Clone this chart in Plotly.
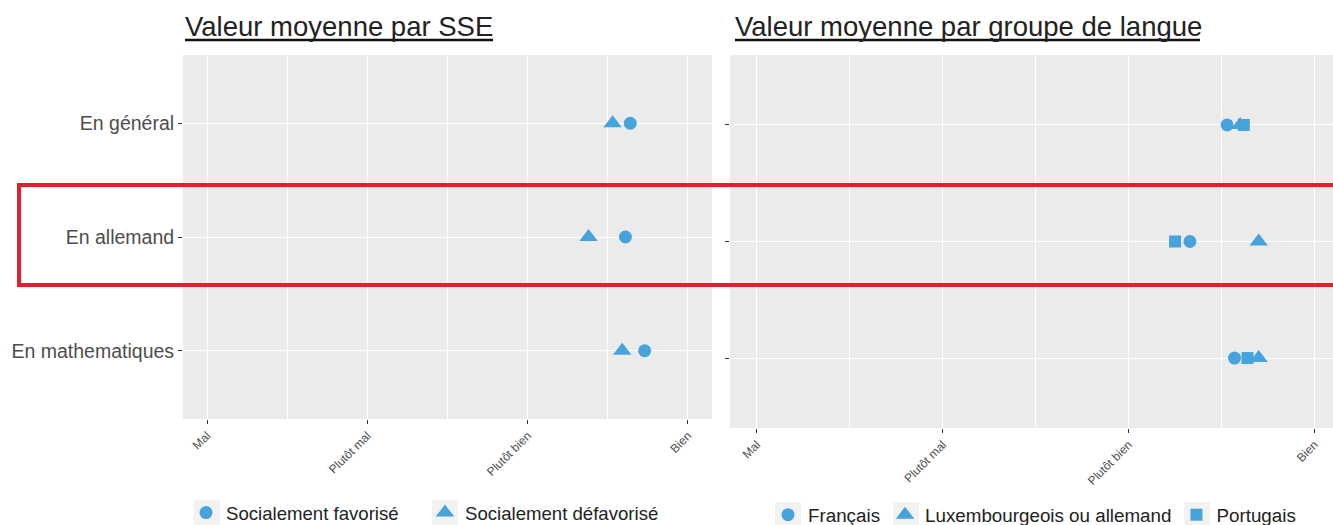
import plotly.graph_objects as go

# ---------------- data ----------------
categories = ["En général", "En allemand", "En mathematiques"]
x_tick_values = [1, 2, 3, 4]
x_tick_labels = ["Mal", "Plutôt mal", "Plutôt bien", "Bien"]

# left panel: mean value by socio-economic status (SSE)
sse_favorise = [3.64, 3.61, 3.73]
sse_defavorise = [3.53, 3.38, 3.59]

# right panel: mean value by language group
lang_francais = [3.53, 3.33, 3.57]
lang_lux_allemand = [3.60, 3.70, 3.70]
lang_portugais = [3.62, 3.25, 3.64]

# ---------------- style ----------------
W, H = 1333, 534          # the capture is scaled vertically to 525
REF_H = 525
BLUE = "#47A3DC"
FONT = "Liberation Sans, Arial, Helvetica, sans-serif"
AXIS_TXT = "#4D4D4D"


def px_x(v):
    return v / W


def px_y(v):
    return 1 - v / REF_H


fig = go.Figure()

# left panel traces
fig.add_trace(go.Scatter(
    x=sse_favorise, y=categories, mode="markers", name="Socialement favorisé",
    marker=dict(symbol="circle", size=13, color=BLUE),
    xaxis="x", yaxis="y", legend="legend"))
fig.add_trace(go.Scatter(
    x=sse_defavorise, y=categories, mode="markers", name="Socialement défavorisé",
    marker=dict(symbol="triangle-up", size=16, color=BLUE),
    xaxis="x", yaxis="y", legend="legend"))

# right panel traces
fig.add_trace(go.Scatter(
    x=lang_francais, y=categories, mode="markers", name="Français",
    marker=dict(symbol="circle", size=13, color=BLUE),
    xaxis="x2", yaxis="y2", legend="legend2"))
fig.add_trace(go.Scatter(
    x=lang_lux_allemand, y=categories, mode="markers", name="Luxembourgeois ou allemand",
    marker=dict(symbol="triangle-up", size=16, color=BLUE),
    xaxis="x2", yaxis="y2", legend="legend2"))
fig.add_trace(go.Scatter(
    x=lang_portugais, y=categories, mode="markers", name="Portugais",
    marker=dict(symbol="square", size=12, color=BLUE),
    xaxis="x2", yaxis="y2", legend="legend2"))

xaxis_common = dict(
    tickvals=x_tick_values, ticktext=x_tick_labels, tickangle=-45,
    tickfont=dict(size=12, color=AXIS_TXT, family=FONT),
    ticks="outside", ticklen=4, tickwidth=1, tickcolor="#333333",
    showgrid=True, gridcolor="white", gridwidth=1.3,
    minor=dict(tickvals=[1.5, 2.5, 3.5], showgrid=True, gridcolor="white",
               gridwidth=0.6, ticks=""),
    zeroline=False, showline=False, fixedrange=True,
)
yaxis_common = dict(
    type="category", categoryorder="array", categoryarray=categories,
    range=[2.6, -0.6],
    ticks="outside", ticklen=4, tickwidth=1, tickcolor="#333333",
    showgrid=True, gridcolor="white", gridwidth=1.3,
    zeroline=False, showline=False, fixedrange=True,
)

fig.update_layout(
    width=W, height=H,
    margin=dict(l=0, r=0, t=0, b=0),
    paper_bgcolor="white", plot_bgcolor="#EBEBEB",
    font=dict(family=FONT, color="#222222"),
    xaxis=dict(domain=[px_x(183), px_x(712)], range=[0.85, 4.15],
               anchor="y", **xaxis_common),
    yaxis=dict(domain=[px_y(419), px_y(55)], anchor="x",
               tickfont=dict(size=19.5, color=AXIS_TXT, family=FONT),
               **yaxis_common),
    xaxis2=dict(domain=[px_x(730), 1.0], range=[0.855, 4.10],
                anchor="y2", **xaxis_common),
    yaxis2=dict(domain=[px_y(428), px_y(55)], anchor="x2",
                showticklabels=False, **yaxis_common),
    legend=dict(orientation="h", x=px_x(186), y=px_y(513), xanchor="left",
                yanchor="middle", font=dict(size=18.6, color="#222222", family=FONT),
                entrywidth=194,
                bgcolor="rgba(0,0,0,0)", itemclick=False, itemdoubleclick=False),
    legend2=dict(orientation="h", x=px_x(768), y=px_y(515), xanchor="left",
                 yanchor="middle", font=dict(size=18.8, color="#222222", family=FONT),
                 bgcolor="rgba(0,0,0,0)", itemclick=False, itemdoubleclick=False),
    showlegend=True,
)

# titles
TITLE_FONT = dict(size=27.5, color="#222222", family=FONT)
fig.add_annotation(text="Valeur moyenne par SSE", xref="paper", yref="paper",
                   x=px_x(183), y=px_y(26), xanchor="left", yanchor="middle",
                   showarrow=False, font=TITLE_FONT)
fig.add_annotation(text="Valeur moyenne par groupe de langue", xref="paper", yref="paper",
                   x=px_x(733), y=px_y(26), xanchor="left", yanchor="middle",
                   showarrow=False, font=TITLE_FONT)
# title underlines
fig.add_shape(type="line", xref="paper", yref="paper",
              x0=px_x(185), x1=px_x(493), y0=px_y(40), y1=px_y(40),
              line=dict(color="#111111", width=2.5))
fig.add_shape(type="line", xref="paper", yref="paper",
              x0=px_x(735), x1=px_x(1200), y0=px_y(40), y1=px_y(40),
              line=dict(color="#111111", width=2.5))

# legend key backgrounds
for cx, cy in [(207, 513), (445, 513), (788, 515), (906, 515), (1197, 515)]:
    fig.add_shape(type="rect", xref="paper", yref="paper",
                  x0=px_x(cx - 13), x1=px_x(cx + 13), y0=px_y(cy + 13), y1=px_y(cy - 13),
                  line=dict(width=0), fillcolor="#F2F2F2", layer="below")

# red highlight rectangle
fig.add_shape(type="rect", xref="paper", yref="paper",
              x0=px_x(19), x1=1.01, y0=px_y(285), y1=px_y(185),
              line=dict(color="#E0202B", width=4), fillcolor="rgba(0,0,0,0)",
              layer="above")

page_fix = (
    "var d=document.documentElement,b=document.body;"
    "d.style.margin='0';b.style.margin='0';b.style.padding='0';"
    "d.style.overflow='hidden';b.style.overflow='hidden';"
)

fig.write_html(
    "out.html",
    config={"displayModeBar": False},
    post_script=page_fix,
)
